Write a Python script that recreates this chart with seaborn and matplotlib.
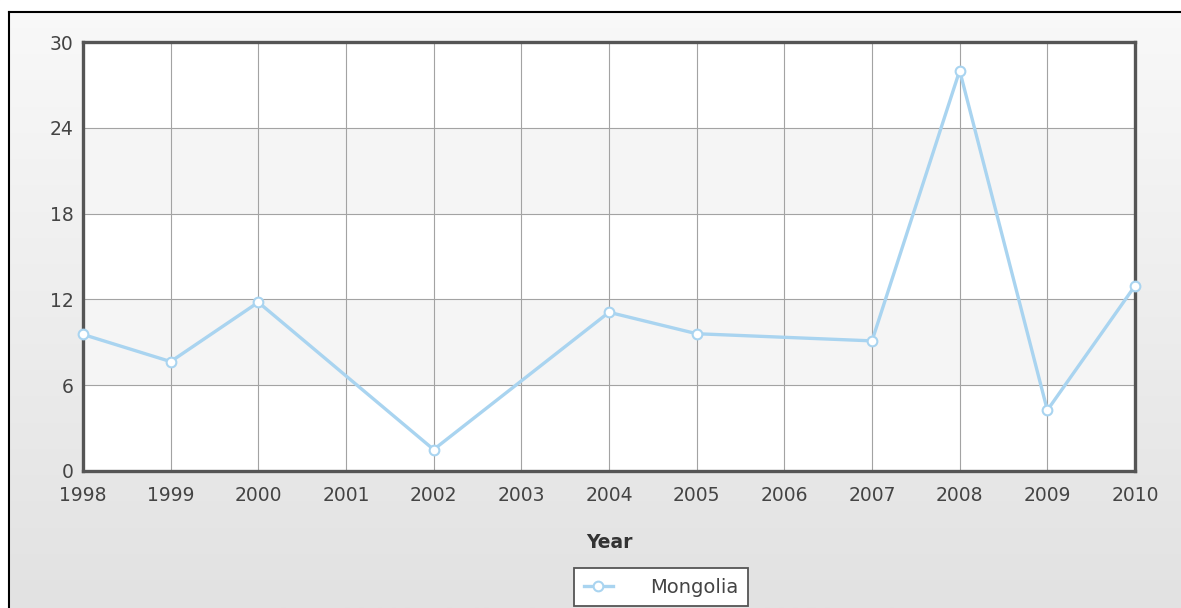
import numpy as np
import pandas as pd
import matplotlib
matplotlib.use("Agg")
import matplotlib.pyplot as plt
import seaborn as sns
from matplotlib.colors import LinearSegmentedColormap

# ---- data ----
years = [1998, 1999, 2000, 2002, 2004, 2005, 2007, 2008, 2009, 2010]
values = [9.55, 7.65, 11.8, 1.5, 11.1, 9.6, 9.1, 28.0, 4.25, 12.95]
tick_years = list(range(1998, 2011))
y_ticks = [0, 6, 12, 18, 24, 30]
series_name = "Mongolia"
x_label = "Year"

df = pd.DataFrame({"Year": years, "Value": values})

plt.rcParams["font.family"] = ["DejaVu Sans"]
W, H = 1181, 608
fig = plt.figure(figsize=(W / 100, H / 100), dpi=100)

# background gradient + border
bg = fig.add_axes([0, 0, 1, 1], zorder=-10)
grad = np.linspace(0, 1, 256).reshape(-1, 1)
cmap = LinearSegmentedColormap.from_list("bg", ["#f9f9f9", "#e2e2e2"])
bg.imshow(grad, aspect="auto", cmap=cmap, extent=[0, 1, 0, 1])
bg.set_xlim(0, 1)
bg.set_ylim(0, 1)
bx, by = 9 / W, 1 - 12 / H
bg.axvspan(0, bx, color="white")
bg.axhspan(by, 1, color="white")
bg.axvline(bx, ymax=by, color="black", lw=1.5)
bg.axhline(by, xmin=bx, color="black", lw=1.5)
bg.axis("off")

# main axes
L, R, T, B = 83, 1135, 42, 471
ax = fig.add_axes([L / W, 1 - B / H, (R - L) / W, (B - T) / H])
ax.set_facecolor("white")
for lo in (6, 18):
    ax.axhspan(lo, lo + 6, color="#f5f5f5", zorder=0, lw=0)

line_color = "#a9d4f0"
sns.lineplot(data=df, x="Year", y="Value", ax=ax, color=line_color, lw=2.4,
             marker="o", markersize=7, markerfacecolor="white",
             markeredgecolor=line_color, markeredgewidth=1.5,
             label=series_name, clip_on=False, zorder=5)

ax.set_xlim(1998, 2010)
ax.set_ylim(0, 30)
ax.set_xticks(tick_years)
ax.set_xticklabels([str(y) for y in tick_years])
ax.set_yticks(y_ticks)
ax.grid(True, color="#a3a3a3", lw=0.8)
ax.set_axisbelow(True)
ax.tick_params(axis="x", length=0, pad=11, labelsize=13.5, labelcolor="#444444")
ax.tick_params(axis="y", length=0, pad=7, labelsize=13.5, labelcolor="#444444")
for s in ax.spines.values():
    s.set_color("#555555")
    s.set_linewidth(2.4)
ax.set_xlabel(x_label, fontsize=13.5, fontweight="bold", color="#333333", labelpad=20)
ax.set_ylabel("")

handles, labels = ax.get_legend_handles_labels()
ax.get_legend().remove()
leg = fig.legend(handles, labels, loc="upper center",
                 bbox_to_anchor=(661 / W, 1 - 568 / H), frameon=True, fancybox=False,
                 edgecolor="#555555", facecolor="white", framealpha=1,
                 fontsize=14, handlelength=1.5, handletextpad=1.9,
                 borderpad=0.5, borderaxespad=0)
leg.get_frame().set_linewidth(1.3)
for t in leg.get_texts():
    t.set_color("#444444")

fig.savefig("out.png", dpi=100)
